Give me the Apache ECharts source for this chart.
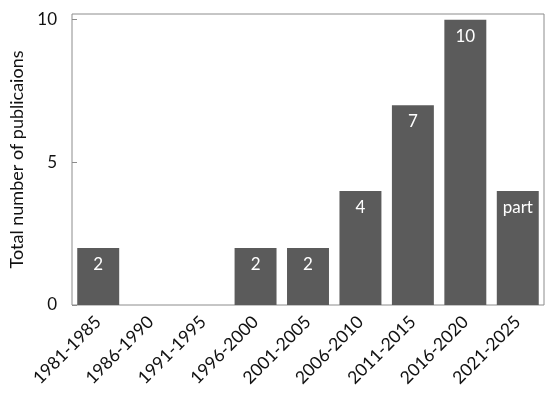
<!DOCTYPE html>
<html><head><meta charset="utf-8">
<script src="https://cdn.jsdelivr.net/npm/echarts@6/dist/echarts.min.js"></script>
<style>html,body{margin:0;padding:0;background:#fff}#c{width:550px;height:399px}</style>
</head><body><div id="c"></div>
<script>
const categories = ['1981-1985','1986-1990','1991-1995','1996-2000','2001-2005','2006-2010','2011-2015','2016-2020','2021-2025'];
const values = [2, 0, 0, 2, 2, 4, 7, 10, 4];
const barLabels = ['2', '', '', '2', '2', '4', '7', '10', 'part'];
const yTicks = [0, 5, 10];
const yAxisTitle = 'Total number of publicaions';

const font = 'Lato, "Open Sans", sans-serif';
const chart = echarts.init(document.getElementById('c'), null, {renderer: 'canvas'});
chart.setOption({
  animation: false,
  grid: {left: 72, right: 6, top: 14, bottom: 94, show: true, borderColor: '#8c8c8c', borderWidth: 1, backgroundColor: 'transparent'},
  xAxis: {
    type: 'category', data: categories,
    axisLine: {show: false},
    axisTick: {show: false},
    axisLabel: {rotate: 45, fontSize: 17.5, color: '#111', fontFamily: font, margin: 14, interval: 0}
  },
  yAxis: {
    type: 'value', min: 0, max: 10.2,
    name: yAxisTitle, nameLocation: 'middle', nameGap: 43, nameRotate: 90,
    nameTextStyle: {fontSize: 18, color: '#111', fontFamily: font},
    splitLine: {show: false},
    axisLine: {show: false},
    axisTick: {show: true, inside: true, length: 5, lineStyle: {color: '#8c8c8c'}, customValues: yTicks},
    axisLabel: {fontSize: 17, color: '#111', fontFamily: font, margin: 15, customValues: yTicks}
  },
  series: [{
    type: 'bar', data: values,
    barCategoryGap: '20%',
    itemStyle: {color: '#5b5b5b'},
    label: {
      show: true, position: 'insideTop', distance: 8, color: '#ffffff', fontSize: 17, fontFamily: font,
      formatter: p => barLabels[p.dataIndex]
    }
  }]
});
</script></body></html>
